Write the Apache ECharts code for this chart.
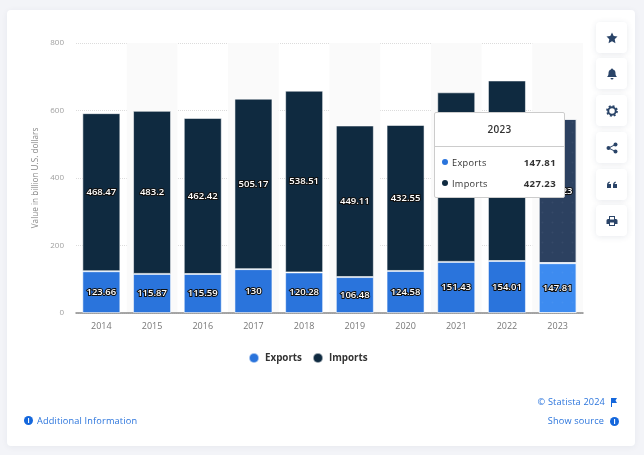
<!DOCTYPE html>
<html>
<head>
<meta charset="utf-8">
<script src="https://cdn.jsdelivr.net/npm/echarts@6/dist/echarts.min.js"></script>
<style>
html, body { margin: 0; padding: 0; width: 644px; height: 455px; overflow: hidden; background: #f3f4f8; font-family: "Open Sans", sans-serif; }
#card { position: absolute; left: 7px; top: 10px; width: 628px; height: 436px; background: #fff; border-radius: 4px; box-shadow: 0 1px 6px rgba(30,50,90,.06); }
#main { position: absolute; left: 0; top: 0; width: 644px; height: 455px; }
.btn { position: absolute; left: 596px; width: 31px; height: 31px; background: #fff; border-radius: 4px; box-shadow: 0 1px 6px rgba(30,50,90,.10); display: flex; align-items: center; justify-content: center; }
.btn svg { width: 12px; height: 12px; fill: #2a4468; }
.link { position: absolute; color: #2a74dc; font-size: 9.2px; line-height: 12px; letter-spacing: .15px; white-space: nowrap; }
.dot { position: absolute; width: 9px; height: 9px; border-radius: 50%; background: #1467dc; color: #fff; font-size: 7px; line-height: 9px; text-align: center; font-weight: 700; }
.tip { font-family: "Open Sans", sans-serif; color: #333; font-size: 9.2px; letter-spacing: .3px; }
.tip .head { height: 33px; line-height: 32px; text-align: center; font-weight: 600; border-bottom: 1px solid #ccc; font-size: 10px; }
.tip .row { position: absolute; left: 7px; right: 8px; height: 14px; line-height: 14px; }
.tip .row i { display: inline-block; width: 6px; height: 6px; border-radius: 50%; margin-right: 4px; vertical-align: 1px; }
.tip .row b { float: right; font-weight: 700; font-size: 9.6px; letter-spacing: .35px; }
</style>
</head>
<body>
<div id="card"></div>
<div id="main"></div>
<div class="btn" style="top:22px"><svg viewBox="0 0 24 24"><path d="M12 1l3.4 7.2 7.6 1-5.6 5.4 1.5 7.8L12 18.6 5.1 22.4l1.5-7.8L1 9.2l7.6-1z"/></svg></div>
<div class="btn" style="top:58px"><svg viewBox="0 0 24 24"><path d="M12 1a2 2 0 0 1 2 2c4 1 5 4 5 8 0 3 1 5 3 7H2c2-2 3-4 3-7 0-4 1-7 5-8a2 2 0 0 1 2-2zM9 20h6a3 3 0 0 1-6 0z"/></svg></div>
<div class="btn" style="top:95px"><svg viewBox="0 0 24 24"><circle cx="12" cy="12" r="7.5" fill="none" stroke="#2a4468" stroke-width="4"/><circle cx="12" cy="12" r="10" fill="none" stroke="#2a4468" stroke-width="3.5" stroke-dasharray="3.9 3.95"/></svg></div>
<div class="btn" style="top:132px"><svg viewBox="0 0 24 24"><circle cx="5" cy="12" r="4"/><circle cx="19" cy="5" r="4"/><circle cx="19" cy="19" r="4"/><path d="M5 11L19 4v2L5 13zM5 11l14 7v2L5 13z"/></svg></div>
<div class="btn" style="top:169px"><svg viewBox="0 0 24 24"><path d="M2 12c0-4 2-6 5-7l1 2c-2 1-3 2-3 3h5v8H2zM14 12c0-4 2-6 5-7l1 2c-2 1-3 2-3 3h5v8h-8z"/></svg></div>
<div class="btn" style="top:205px"><svg viewBox="0 0 24 24"><path fill-rule="evenodd" d="M6 2h12v6h2a3 3 0 0 1 3 3v7h-5v4H6v-4H1v-7a3 3 0 0 1 3-3h2zM8 4v5h8V4zM8 15v5h8v-5z"/></svg></div>
<div class="dot" style="left:24px;top:416px">i</div>
<div class="link" style="left:37px;top:415px">Additional Information</div>
<div class="link" style="right:39px;top:396px">© Statista 2024</div>
<svg style="position:absolute;left:610px;top:397px" width="8" height="10" viewBox="0 0 8 10"><path fill="#1467dc" d="M1 1h6L5.5 3.5 7 6H2v4H1z"/></svg>
<div class="link" style="right:40px;top:415px">Show source</div>
<div class="dot" style="left:610px;top:417px">i</div>
<script>
const years = ['2014', '2015', '2016', '2017', '2018', '2019', '2020', '2021', '2022', '2023'];
const exportsValues = [123.66, 115.87, 115.59, 130, 120.28, 106.48, 124.58, 151.43, 154.01, 147.81];
const importsValues = [468.47, 483.2, 462.42, 505.17, 538.51, 449.11, 432.55, 502.5, 535, 427.23];
const yTicks = [0, 200, 400, 600, 800];

const activeIndex = 9; // 2023 sits under the tooltip

var myChart = echarts.init(document.getElementById('main'));

function tipHtml() {
    var i = activeIndex;
    return '<div class="tip"><div class="head">' + years[i] + '</div>' +
        '<div class="row" style="top:43px"><i style="background:#2a74dc"></i>Exports<b>' + exportsValues[i] + '</b></div>' +
        '<div class="row" style="top:64px"><i style="background:#0f2a40"></i>Imports<b>' + importsValues[i] + '</b></div></div>';
}

function makeSeries(name, values, color, activeColor) {
    return {
        name: name,
        type: 'bar',
        stack: 'total',
        barWidth: 38,
        data: values.map(function (v, i) {
            if (i !== activeIndex) return v;
            return {
                value: v,
                itemStyle: {
                    color: activeColor,
                    decal: { symbol: 'circle', symbolSize: 0.4, color: 'rgba(255,255,255,0.05)', dashArrayX: 5, dashArrayY: 5 }
                }
            };
        }),
        itemStyle: { color: color, borderColor: 'rgba(255,255,255,0.55)', borderWidth: 1 },
        label: {
            show: true,
            position: 'inside',
            color: '#fff',
            fontFamily: 'Open Sans',
            fontSize: 9.5,
            fontWeight: 600,
            textBorderColor: '#111',
            textBorderWidth: 2
        },
        emphasis: { disabled: true }
    };
}

var option = {
    animation: false,
    grid: { left: 76, right: 61, top: 43, bottom: 142 },
    color: ['#2a74dc', '#0f2a40'],
    legend: {
        left: 243,
        top: 347,
        icon: 'circle',
        itemWidth: 10,
        itemHeight: 10,
        itemGap: 10,
        selectedMode: false,
        textStyle: { color: '#333', fontFamily: 'Open Sans', fontSize: 9.8, fontWeight: 700, padding: [0, 0, 0, 1] }
    },
    tooltip: {
        trigger: 'axis',
        alwaysShowContent: true,
        showContent: true,
        transitionDuration: 0,
        padding: 0,
        borderWidth: 1,
        borderColor: '#ccc',
        borderRadius: 2,
        backgroundColor: '#fff',
        extraCssText: 'width:129px;height:84px;box-shadow:none;',
        axisPointer: { type: 'none' },
        position: function () { return [434, 112]; },
        formatter: tipHtml
    },
    xAxis: {
        type: 'category',
        data: years,
        axisTick: { show: false },
        axisLine: { lineStyle: { color: '#8a8a8a', width: 1.5 } },
        axisLabel: { color: '#777', fontFamily: 'Open Sans', fontSize: 9, margin: 9 },
        splitArea: { show: true, areaStyle: { color: ['rgba(0,0,0,0)', '#fafafa'] } }
    },
    yAxis: {
        type: 'value',
        min: 0,
        max: 800,
        interval: 200,
        name: 'Value in billion U.S. dollars',
        nameLocation: 'middle',
        nameGap: 33,
        nameTextStyle: { color: '#888', fontFamily: 'Open Sans', fontSize: 8.2 },
        axisLabel: {
            color: '#a0a0a0',
            fontFamily: 'Open Sans',
            fontSize: 8,
            margin: 12,
            formatter: function (v) { return yTicks.indexOf(v) >= 0 ? String(v) : ''; }
        },
        splitLine: { lineStyle: { color: '#dcdcdc', type: 'dotted' } }
    },
    series: [
        makeSeries('Exports', exportsValues, '#2a74dc', '#3d8bf0'),
        makeSeries('Imports', importsValues, '#0f2a40', '#2c4160')
    ]
};

myChart.setOption(option);
myChart.dispatchAction({ type: 'showTip', seriesIndex: 0, dataIndex: activeIndex });
</script>
</body>
</html>
